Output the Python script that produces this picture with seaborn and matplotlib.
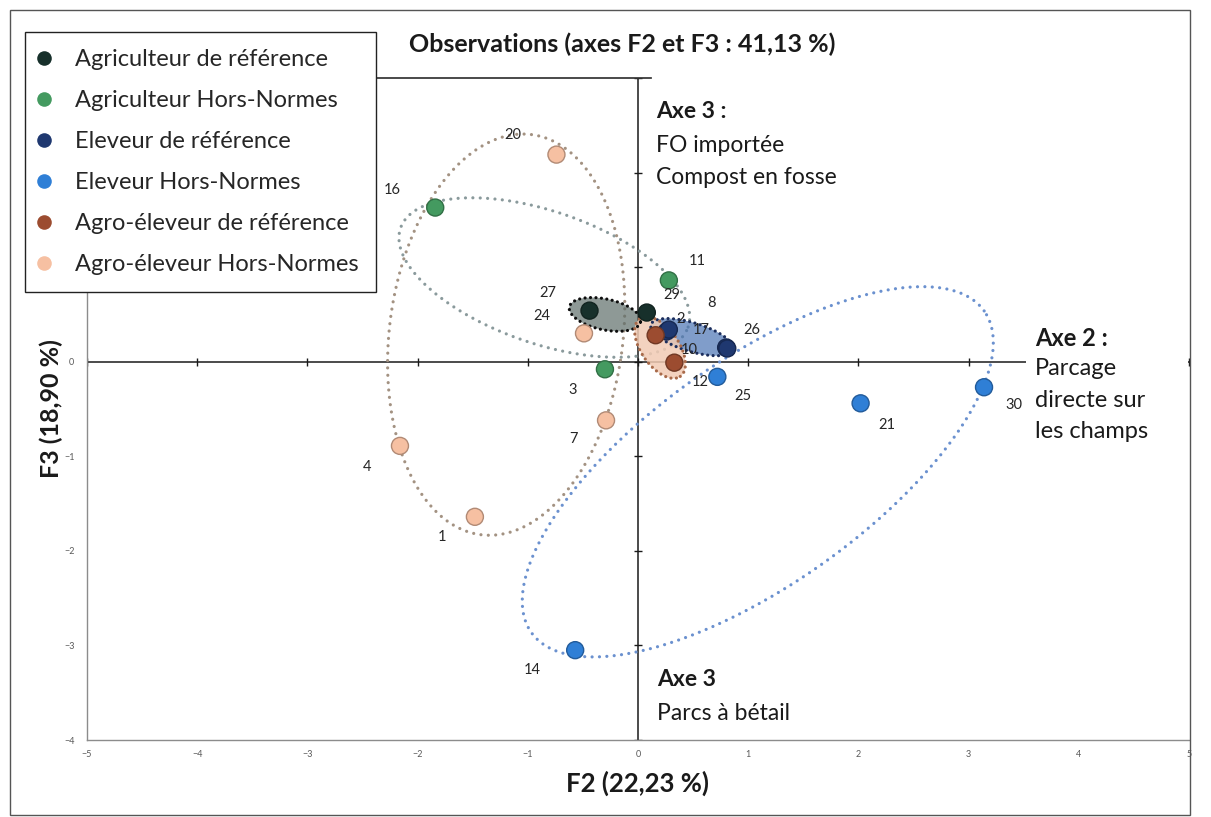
import numpy as np
import pandas as pd
import matplotlib
matplotlib.use("Agg")
import matplotlib.pyplot as plt
import seaborn as sns
from matplotlib.lines import Line2D
from matplotlib.patches import Rectangle

sns.set_theme(style="white")
plt.rcParams["font.family"] = ["Lato", "DejaVu Sans"]

# ---- data -------------------------------------------------------------
groups = [
    "Agriculteur de référence",
    "Agriculteur Hors-Normes",
    "Eleveur de référence",
    "Eleveur Hors-Normes",
    "Agro-éleveur de référence",
    "Agro-éleveur Hors-Normes",
]
group_colors = ["#17302b", "#449a60", "#1f3870", "#2f7fd6", "#9c4c30", "#f6c0a2"]

obs_ids = ["27", "29", "16", "11", "3", "10", "8", "17", "26", "14",
           "25", "21", "30", "2", "12", "20", "24", "7", "4", "1"]
obs_group = [0, 0, 1, 1, 1, 2, 2, 2, 2, 3, 3, 3, 3, 4, 4, 5, 5, 5, 5, 5]
f2 = [-0.44, 0.08, -1.84, 0.28, -0.30, 0.26, 0.28, 0.80, 0.81, -0.57,
      0.72, 2.02, 3.14, 0.16, 0.33, -0.74, -0.49, -0.29, -2.16, -1.48]
f3 = [0.54, 0.52, 1.63, 0.86, -0.08, 0.32, 0.34, 0.15, 0.14, -3.05,
      -0.16, -0.44, -0.27, 0.28, -0.01, 2.19, 0.30, -0.62, -0.89, -1.64]

# confidence ellipses per group: centre, semi-axes (F2 units), orientation
ell_cx = [-0.30, -0.85, 0.49, 1.087, 0.20, -1.196]
ell_cy = [0.50, 0.89, 0.26, -1.164, 0.15, 0.286]
ell_a = [0.33, 1.38, 0.39, 2.52, 0.32, 1.83]
ell_b = [0.14, 0.60, 0.13, 1.02, 0.17, 1.06]
ell_angle = [-12, -19, -17, 35.4, -55, 82.8]

x_ticks = [-5, -4, -3, -2, -1, 0, 1, 2, 3, 4, 5]
y_ticks = [-4, -3, -2, -1, 0, 1, 2, 3]

# ---- label placement (pixels, y downward) ----------------------------
lab_dx = [-42, 25, -43, 28, -32, 23, 43, -25, 25, -43,
          26, 26, 30, 25, 26, -44, -42, -33, -33, -33]
lab_dy = [-18, -18, -18, -19, 21, 19, -27, -18, -18, 20,
          19, 22, 18, -16, 19, -20, -17, 19, 21, 20]

# ---- figure ------------------------------------------------------------
W, H, DPI = 1211, 817, 100
fig = plt.figure(figsize=(W / DPI, H / DPI), dpi=DPI)
fig.patch.set_facecolor("white")


def fx(px):
    return px / W


def fy(py):
    return 1 - py / H


ax = fig.add_axes([fx(87), fy(740), fx(1189) - fx(87), fy(78) - fy(740)])
ax.set_xlim(x_ticks[0], x_ticks[-1])
ax.set_ylim(y_ticks[0], y_ticks[-1])

df = pd.DataFrame({
    "F2": f2,
    "F3": f3,
    "Groupe": [groups[g] for g in obs_group],
    "id": obs_ids,
})
palette = dict(zip(groups, group_colors))

# centre axes with small tick marks
ax.axhline(0, color="#1a1a1a", lw=1.1, zorder=1.5)
ax.axvline(0, color="#1a1a1a", lw=1.1, zorder=1.5)
ax.plot(x_ticks, np.zeros(len(x_ticks)), ls="none", marker="|", ms=6,
        mew=1, color="#1a1a1a", zorder=1.5)
ax.plot(np.zeros(len(y_ticks)), y_ticks, ls="none", marker="_", ms=6,
        mew=1, color="#1a1a1a", zorder=1.5)

# ellipses
sx = ax.bbox.width / (x_ticks[-1] - x_ticks[0])
sy = ax.bbox.height / (y_ticks[-1] - y_ticks[0])
t = np.linspace(0, 2 * np.pi, 600)
filled = [True, False, True, False, True, False]
fill_col = ["#5e6e6a", None, "#4a74b4", None, "#f2cbb4", None]
fill_alpha = [0.7, 0, 0.7, 0, 0.85, 0]
edge_col = ["#0d0d0d", "#8a9a9c", "#1b2d5c", "#6b91cf", "#a86a4a", "#a39282"]
for i in range(len(groups)):
    th = np.deg2rad(ell_angle[i])
    u = ell_a[i] * np.cos(t)
    v = ell_b[i] * np.sin(t)
    ex = ell_cx[i] + u * np.cos(th) - v * np.sin(th)
    ey = ell_cy[i] + (u * np.sin(th) + v * np.cos(th)) * sx / sy
    if filled[i]:
        ax.fill(ex, ey, color=fill_col[i], alpha=fill_alpha[i], lw=0, zorder=2.5)
        ax.plot(ex, ey, color=edge_col[i], lw=2.3, ls=(0, (0.01, 1.7)),
                dash_capstyle="round", zorder=2.6)
    else:
        ax.plot(ex, ey, color=edge_col[i], lw=2.3, ls=(0, (0.01, 2.3)),
                dash_capstyle="round", zorder=2)

# observations
sns.scatterplot(data=df, x="F2", y="F3", hue="Groupe", hue_order=groups,
                palette=palette, s=150, legend=False, ax=ax, zorder=4)
pts = ax.collections[-1]


def darker(c, f=0.72):
    r, g, b = matplotlib.colors.to_rgb(c)
    return (r * f, g * f, b * f)


pts.set_edgecolor([darker(group_colors[g]) for g in obs_group])
pts.set_linewidth(1.0)

for i, txt in enumerate(obs_ids):
    ax.annotate(txt, (f2[i], f3[i]),
                xytext=(lab_dx[i] * 72 / DPI, -lab_dy[i] * 72 / DPI),
                textcoords="offset points", ha="center", va="center",
                fontsize=10.5, color="#262626", zorder=5)

# frame and ticks
for s in ["left", "bottom"]:
    ax.spines[s].set_color("#8c8c8c")
    ax.spines[s].set_linewidth(1)
ax.spines["right"].set_visible(False)
ax.spines["top"].set_color("#333333")
ax.spines["top"].set_bounds(x_ticks[0], 0.12)
ax.set_xticks(x_ticks)
ax.set_yticks(y_ticks)
ax.tick_params(axis="both", length=0, labelsize=6.5, labelcolor="#595959")
ax.tick_params(axis="x", pad=7)
ax.tick_params(axis="y", pad=9)

ax.set_xlabel("F2 (22,23 %)", fontsize=18.5, fontweight="bold", color="#1a1a1a")
ax.xaxis.set_label_coords(0.5, -0.046)
ax.set_ylabel("F3 (18,90 %)", fontsize=18, fontweight="bold", color="#1a1a1a")
ax.yaxis.set_label_coords(-0.0215, 0.5)

# title and axis interpretations
fig.text(fx(409), fy(44), "Observations (axes F2 et F3 : 41,13 %)",
         fontsize=18, fontweight="bold", va="center", ha="left", color="#1a1a1a")

txt_kw = dict(fontsize=16.5, va="center", ha="left", color="#1a1a1a")
fig.text(fx(656), fy(112), "Axe 3 :", fontweight="bold", **txt_kw)
fig.text(fx(656), fy(146), "FO importée", **txt_kw)
fig.text(fx(656), fy(178), "Compost en fosse", **txt_kw)

# white panel behind the Axe 2 note, hiding the end of the F2 line
fig.add_artist(Rectangle((fx(1026), fy(452)), fx(1188) - fx(1026), fy(318) - fy(452),
                         transform=fig.transFigure, facecolor="white",
                         edgecolor="none", zorder=1))
txt2_kw = dict(fontsize=17, va="center", ha="left", color="#1a1a1a", zorder=3)
fig.text(fx(1035), fy(338), "Axe 2 :", fontweight="bold", **txt2_kw)
fig.text(fx(1035), fy(369), "Parcage", **txt2_kw)
fig.text(fx(1035), fy(400), "directe sur", **txt2_kw)
fig.text(fx(1035), fy(432), "les champs", **txt2_kw)

fig.text(fx(657), fy(679), "Axe 3", fontweight="bold", **txt_kw)
fig.text(fx(657), fy(713), "Parcs à bétail", **txt_kw)

# legend
handles = [Line2D([0], [0], marker="o", ls="", markersize=10.5,
                  markerfacecolor=c, markeredgewidth=0) for c in group_colors]
leg = fig.legend(handles, groups, loc="upper left",
                 bbox_to_anchor=(fx(25), fy(32)), borderaxespad=0,
                 frameon=True, fancybox=False, framealpha=1,
                 edgecolor="#222222", facecolor="white",
                 fontsize=17, labelspacing=0.85, handlelength=0.2,
                 handletextpad=1.2, borderpad=0.72)
leg.get_frame().set_linewidth(1)
for tx in leg.get_texts():
    tx.set_color("#262626")

# outer frame
fig.add_artist(Rectangle((fx(10), fy(815)), fx(1190) - fx(10), fy(10) - fy(815),
                         transform=fig.transFigure, fill=False,
                         edgecolor="#555555", lw=1))

fig.savefig("out.png", dpi=DPI, facecolor="white")
